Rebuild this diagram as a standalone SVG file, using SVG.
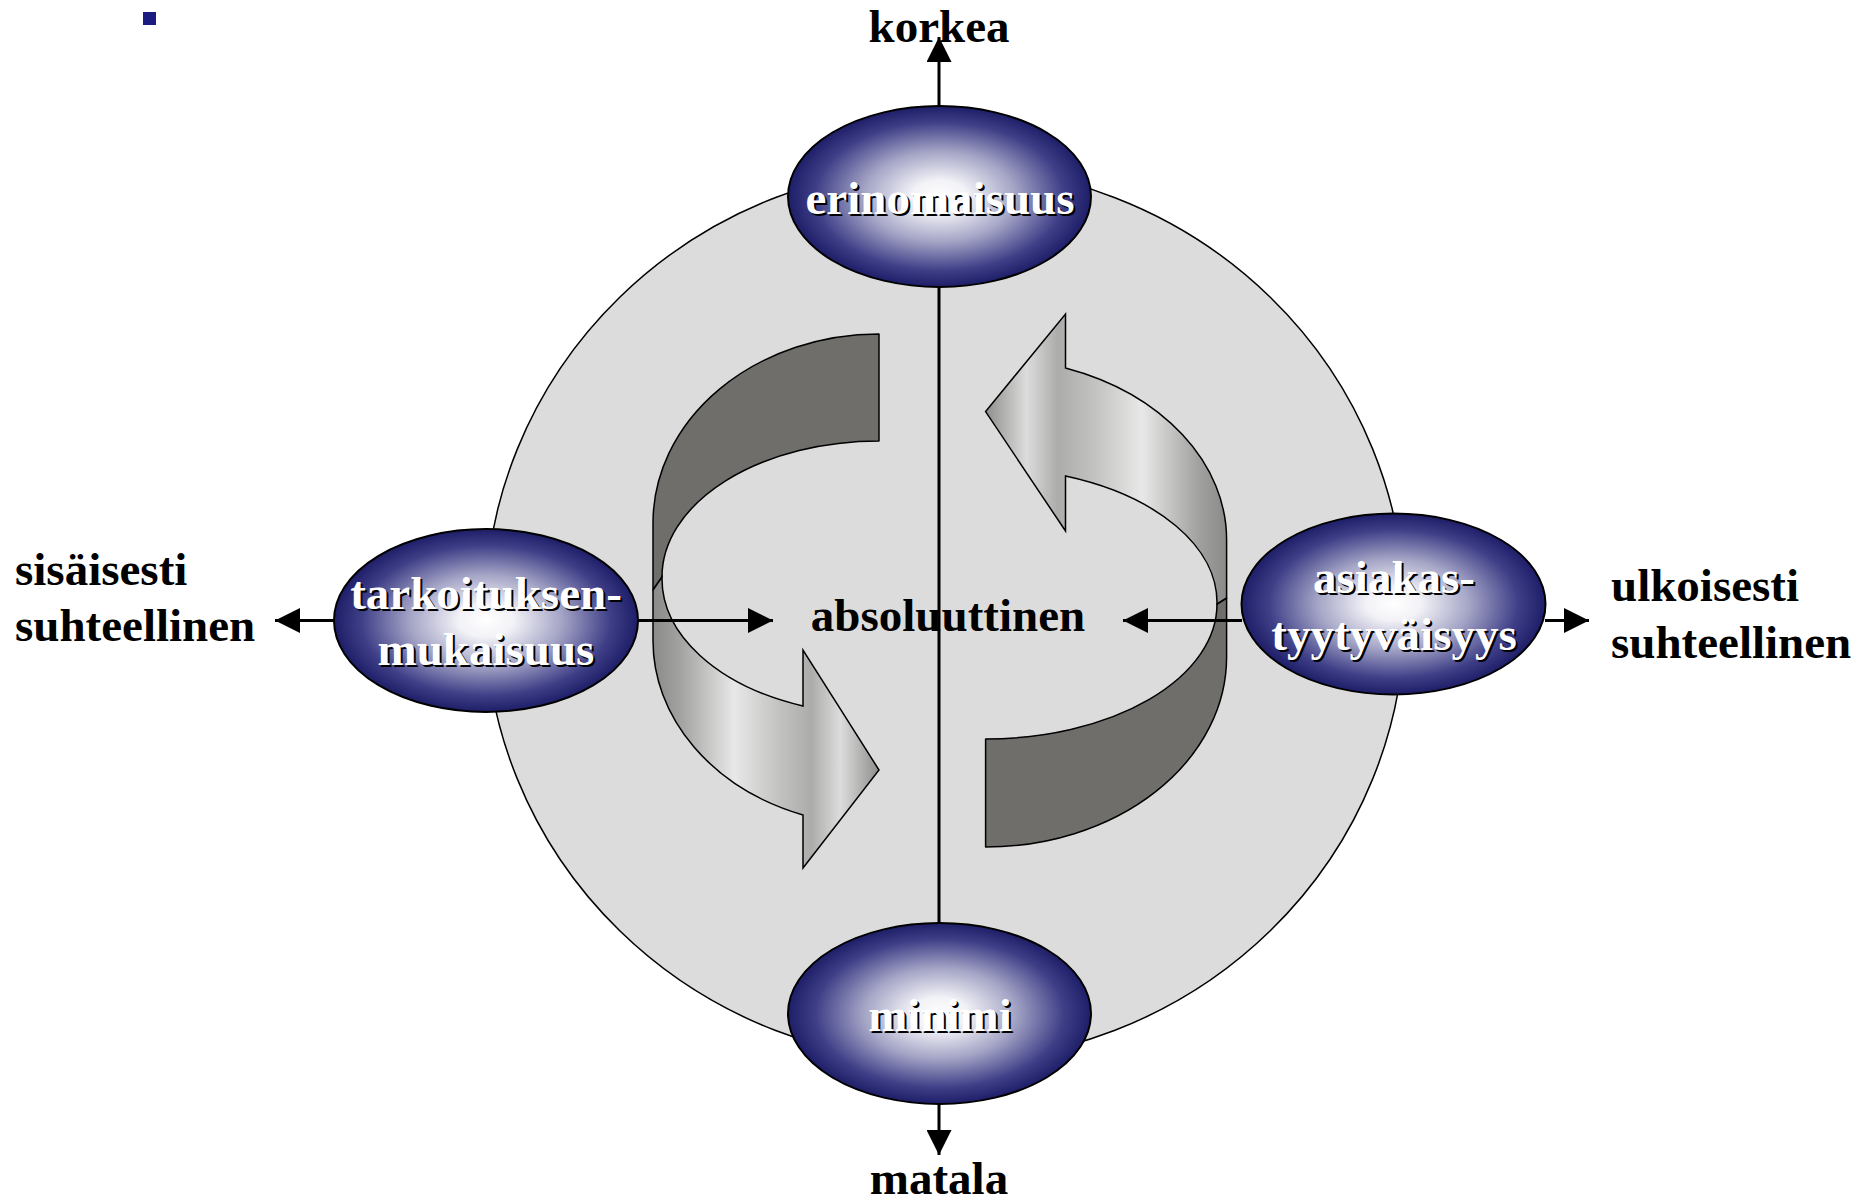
<svg xmlns="http://www.w3.org/2000/svg" width="1871" height="1204" viewBox="0 0 1871 1204">
<style>
.lbl{font-family:"Liberation Serif","Times New Roman",serif;font-weight:bold;font-size:47px;fill:#000}
.nt{font-family:"Liberation Serif","Times New Roman",serif;font-weight:bold;font-size:47px;fill:#fff;text-anchor:middle}
.ns{font-family:"Liberation Serif","Times New Roman",serif;font-weight:bold;font-size:47px;fill:#000;text-anchor:middle}
.node{fill:url(#ng);stroke:#000;stroke-width:2}
.ln{stroke:#000;stroke-width:3;fill:none}
.back{fill:#6f6e6a;stroke:#000;stroke-width:1.5;stroke-linejoin:round}
.front{stroke:#000;stroke-width:1.5;stroke-linejoin:miter}
</style>
<defs>
<radialGradient id="ng" cx="0.5" cy="0.5" r="0.5">
<stop offset="0" stop-color="#ffffff"/>
<stop offset="0.18" stop-color="#f2f2f7"/>
<stop offset="0.5" stop-color="#a4a4c6"/>
<stop offset="0.82" stop-color="#3f3f88"/>
<stop offset="1" stop-color="#1e1e68"/>
</radialGradient>
<linearGradient id="gl" gradientUnits="userSpaceOnUse" x1="653" y1="0" x2="879" y2="0">
<stop offset="0" stop-color="#8a8a88"/>
<stop offset="0.12" stop-color="#a2a2a0"/>
<stop offset="0.36" stop-color="#e8e8e8"/>
<stop offset="0.56" stop-color="#c2c2c0"/>
<stop offset="0.7" stop-color="#acacaa"/>
<stop offset="0.83" stop-color="#dcdcdc"/>
<stop offset="1" stop-color="#8e8e8c"/>
</linearGradient>
<linearGradient id="gr" gradientUnits="userSpaceOnUse" x1="985.6" y1="0" x2="1226.6" y2="0">
<stop offset="0" stop-color="#8e8e8c"/>
<stop offset="0.17" stop-color="#dcdcdc"/>
<stop offset="0.3" stop-color="#acacaa"/>
<stop offset="0.45" stop-color="#c2c2c0"/>
<stop offset="0.65" stop-color="#e8e8e8"/>
<stop offset="0.88" stop-color="#a2a2a0"/>
<stop offset="1" stop-color="#8a8a88"/>
</linearGradient>
<marker id="ah" viewBox="0 0 25 25" refX="25" refY="12.5" markerWidth="25" markerHeight="25" markerUnits="userSpaceOnUse" orient="auto">
<path d="M0,0 L25,12.5 L0,25 Z" fill="#000"/>
</marker>
</defs>
<rect width="1871" height="1204" fill="#fff"/>
<rect x="143" y="12" width="13" height="13" fill="#1c1c80"/>

<g id="background-circle">
<ellipse cx="945" cy="614" rx="460" ry="448" fill="#dcdcdc" stroke="#000" stroke-width="1.5"/>
</g>

<g id="cycle-arrow-left">
<path class="back" d="M879,334 A226,189 0 0 0 653,523 L653,590 L662,577 A217,136 0 0 1 879,441 Z"/>
<path class="front" fill="url(#gl)" d="M653,590 L662,577 A217,136 0 0 0 803,706 L803,650 L879,770 L803,868 L803,815 A226,185 0 0 1 653,640 Z"/>
</g>

<g id="cycle-arrow-right">
<path class="back" d="M985.6,847 A241,190 0 0 0 1226.6,657 L1226.6,598 L1217,604 A232,135 0 0 1 985.6,739 Z"/>
<path class="front" fill="url(#gr)" d="M1226.6,598 L1217,604 A232,135 0 0 0 1065.5,476 L1065.5,531 L985.6,411.6 L1065.5,314 L1065.5,368 A241,182 0 0 1 1226.6,540 Z"/>
</g>

<g id="center-label">
<text class="lbl" x="948" y="631" text-anchor="middle">absoluuttinen</text>
</g>

<g id="connectors">
<line class="ln" x1="939" y1="287" x2="939" y2="923"/>
<line class="ln" x1="939" y1="106" x2="939" y2="37" marker-end="url(#ah)"/>
<line class="ln" x1="939" y1="1104" x2="939" y2="1155" marker-end="url(#ah)"/>
<line class="ln" x1="334" y1="620.5" x2="275" y2="620.5" marker-end="url(#ah)"/>
<line class="ln" x1="638" y1="620.5" x2="773" y2="620.5" marker-end="url(#ah)"/>
<line class="ln" x1="1242" y1="620.5" x2="1123" y2="620.5" marker-end="url(#ah)"/>
<line class="ln" x1="1545" y1="620.5" x2="1589" y2="620.5" marker-end="url(#ah)"/>
</g>

<g id="node-erinomaisuus">
<ellipse class="node" cx="939.5" cy="196.5" rx="151.5" ry="90.5"/>
<text class="ns" x="942" y="216">erinomaisuus</text>
<text class="nt" x="940" y="214">erinomaisuus</text>
</g>

<g id="node-minimi">
<ellipse class="node" cx="939.5" cy="1013.5" rx="151.5" ry="90.5"/>
<text class="ns" x="942" y="1033">minimi</text>
<text class="nt" x="940" y="1031">minimi</text>
</g>

<g id="node-tarkoituksenmukaisuus">
<ellipse class="node" cx="486" cy="620.5" rx="152" ry="91.5"/>
<text class="ns" x="488" y="611">tarkoituksen-</text>
<text class="nt" x="486" y="609">tarkoituksen-</text>
<text class="ns" x="488" y="667">mukaisuus</text>
<text class="nt" x="486" y="665">mukaisuus</text>
</g>

<g id="node-asiakastyytyvaisyys">
<ellipse class="node" cx="1393.5" cy="604" rx="152" ry="90.5"/>
<text class="ns" x="1396" y="595">asiakas-</text>
<text class="nt" x="1394" y="593">asiakas-</text>
<text class="ns" x="1396" y="652">tyytyväisyys</text>
<text class="nt" x="1394" y="650">tyytyväisyys</text>
</g>

<g id="labels">
<text class="lbl" x="939" y="42" text-anchor="middle">korkea</text>
<text class="lbl" x="939" y="1194" text-anchor="middle">matala</text>
<text class="lbl" x="15" y="585">sisäisesti</text>
<text class="lbl" x="15" y="641">suhteellinen</text>
<text class="lbl" x="1611" y="601">ulkoisesti</text>
<text class="lbl" x="1611" y="658">suhteellinen</text>
</g>
</svg>
